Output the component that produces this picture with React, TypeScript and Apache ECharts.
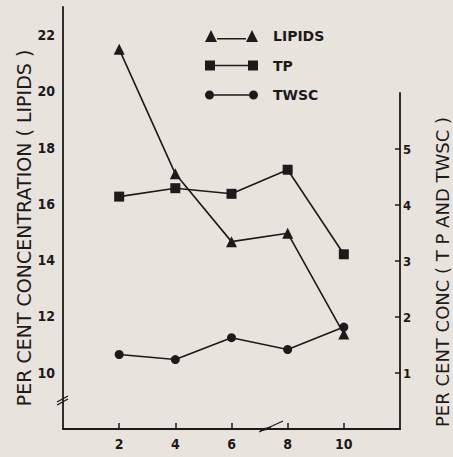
import React, { useEffect, useRef } from "react";
import * as echarts from "echarts";

const xValues = [2, 4, 6, 8, 10];
const lipids = [21.5, 17.07, 14.66, 14.96, 11.38];
const tp = [4.15, 4.3, 4.2, 4.63, 3.12];
const twsc = [1.33, 1.24, 1.63, 1.42, 1.82];
const xTickLabels = [2, 4, 6, 8, 10];
const leftTickLabels = [10, 12, 14, 16, 18, 20, 22];
const rightTickLabels = [1, 2, 3, 4, 5];

const FONT_C = "'DejaVu Sans Condensed', 'DejaVu Sans', sans-serif";
const FONT = "'DejaVu Sans', sans-serif";
const INK = "#1c1a1a";

const pairs = (ys: number[]) => xValues.map((x, i) => [x, ys[i]]);

const triIcon =
  "path://M0,12L6,0L12,12Z M12,8L41,8L41,9.4L12,9.4Z M41,12L47,0L53,12Z";
const sqIcon =
  "path://M0,0H10V10H0Z M10,4.3H43V5.7H10Z M43,0H53V10H43Z";
const ciIcon =
  "path://M0,4.5A4.5,4.5,0,1,1,9,4.5A4.5,4.5,0,1,1,0,4.5Z M9,3.8H44V5.2H9Z M44,4.5A4.5,4.5,0,1,1,53,4.5A4.5,4.5,0,1,1,44,4.5Z";

export default function App() {
  const ref = useRef<HTMLDivElement>(null);
  useEffect(() => {
    if (!ref.current) return;
    const chart = echarts.init(ref.current, null, { renderer: "svg" });
    const axisLine = {
      show: true,
      onZero: false,
      lineStyle: { color: INK, width: 1.8 },
    };
    const lineStyle = { color: INK, width: 1.6 };
    chart.setOption({
      animation: false,
      backgroundColor: "#e9e3de",
      textStyle: { fontFamily: FONT, color: INK },
      grid: [
        {
          left: 63,
          top: 7,
          width: 337,
          height: 422,
          containLabel: false,
          outerBoundsMode: "none",
        },
        {
          left: 63,
          top: 93,
          width: 337,
          height: 336,
          containLabel: false,
          outerBoundsMode: "none",
        },
      ],
      legend: {
        orient: "vertical",
        left: 200,
        top: 24,
        itemWidth: 53,
        itemHeight: 12,
        itemGap: 15.5,
        textStyle: {
          fontFamily: FONT,
          fontSize: 14,
          fontWeight: "bold",
          color: INK,
          padding: [0, 0, 0, 10],
        },
        data: [
          { name: "LIPIDS", icon: triIcon },
          { name: "TP", icon: sqIcon },
          { name: "TWSC", icon: ciIcon },
        ],
      },
      xAxis: [
        {
          type: "value",
          gridIndex: 0,
          min: 0,
          max: 12,
          axisLine,
          splitLine: { show: false },
          axisTick: {
            show: true,
            inside: true,
            length: 6,
            lineStyle: { color: INK, width: 1.5 },
            customValues: xTickLabels,
          },
          axisLabel: {
            customValues: xTickLabels,
            margin: 8,
            fontSize: 14,
            fontWeight: "bold",
            color: INK,
            fontFamily: FONT_C,
          },
        },
        {
          type: "value",
          gridIndex: 1,
          min: 0,
          max: 12,
          show: false,
        },
      ],
      yAxis: [
        {
          type: "value",
          gridIndex: 0,
          min: 8,
          max: 23,
          position: "left",
          axisLine,
          splitLine: { show: false },
          axisTick: { show: false },
          axisLabel: {
            customValues: leftTickLabels,
            margin: 8,
            fontSize: 14,
            fontWeight: "bold",
            color: INK,
            fontFamily: FONT_C,
          },
          name: "PER CENT CONCENTRATION ( LIPIDS )",
          nameLocation: "middle",
          nameGap: 30,
          nameMoveOverlap: false,
          nameTextStyle: {
            fontFamily: FONT,
            fontSize: 19,
            color: INK,
            padding: [0, 20, 0, 0],
          },
        },
        {
          type: "value",
          gridIndex: 1,
          min: 0,
          max: 6,
          position: "right",
          axisLine,
          splitLine: { show: false },
          axisTick: {
            show: true,
            inside: true,
            length: 5,
            lineStyle: { color: INK, width: 1.5 },
            customValues: rightTickLabels,
          },
          axisLabel: {
            customValues: rightTickLabels,
            margin: 3,
            fontSize: 13,
            fontWeight: "bold",
            color: INK,
            fontFamily: FONT_C,
          },
          name: "PER CENT CONC ( T P AND TWSC )",
          nameLocation: "middle",
          nameGap: 33,
          nameMoveOverlap: false,
          nameTextStyle: {
            fontFamily: FONT,
            fontSize: 18,
            color: INK,
            padding: [0, 22, 0, 0],
          },
        },
      ],
      series: [
        {
          name: "LIPIDS",
          type: "line",
          xAxisIndex: 0,
          yAxisIndex: 0,
          data: pairs(lipids),
          symbol: "triangle",
          symbolSize: [11, 11],
          lineStyle,
          itemStyle: { color: INK },
        },
        {
          name: "TP",
          type: "line",
          xAxisIndex: 1,
          yAxisIndex: 1,
          data: pairs(tp),
          symbol: "rect",
          symbolSize: 10,
          lineStyle,
          itemStyle: { color: INK },
        },
        {
          name: "TWSC",
          type: "line",
          xAxisIndex: 1,
          yAxisIndex: 1,
          data: pairs(twsc),
          symbol: "circle",
          symbolSize: 9,
          lineStyle,
          itemStyle: { color: INK },
        },
      ],
      graphic: [
        {
          type: "line",
          shape: { x1: 57, y1: 405, x2: 68, y2: 399 },
          style: { stroke: INK, lineWidth: 1.3 },
        },
        {
          type: "line",
          shape: { x1: 57, y1: 402, x2: 68, y2: 396 },
          style: { stroke: INK, lineWidth: 1.3 },
        },
        {
          type: "line",
          shape: { x1: 259, y1: 432, x2: 283, y2: 421 },
          style: { stroke: INK, lineWidth: 1.2 },
        },
        {
          type: "line",
          shape: { x1: 260, y1: 430, x2: 271, y2: 428 },
          style: { stroke: INK, lineWidth: 2.5 },
        },
      ],
    });
    return () => chart.dispose();
  }, []);
  return (
    <div
      ref={ref}
      style={{ position: "fixed", left: 0, top: 0, width: 453, height: 457 }}
    />
  );
}
